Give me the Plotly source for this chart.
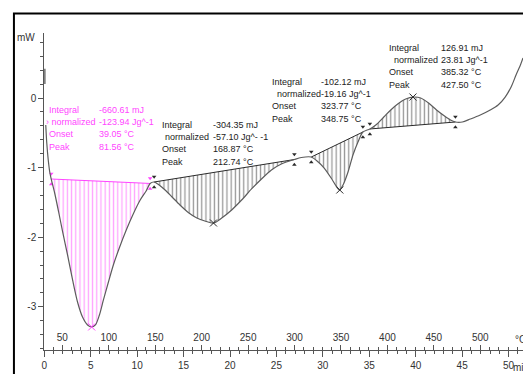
import plotly.graph_objects as go

W, H = 523, 374

# DSC heating run: heat flow (mW) against time (min), heating rate 10 K/min
time_min = [0.16, 0.27, 0.43, 0.59, 0.75, 1.12, 1.55, 1.98, 2.51, 3.05,
            3.58, 4.12, 4.66, 5.09, 5.51, 5.94, 6.37, 6.91, 7.44, 8.08,
            8.83, 9.58, 10.33, 10.97, 11.40, 11.83, 12.37, 13.01, 13.76, 14.61,
            15.58, 16.43, 17.29, 18.25, 19.11, 20.18, 21.25, 22.32, 23.39, 24.46,
            25.53, 26.93, 27.68, 28.75, 29.50, 30.14, 30.89, 31.42, 31.80, 32.17,
            32.71, 33.24, 33.78, 34.31, 35.06, 35.70, 36.56, 37.31, 38.06, 38.92,
            39.78, 40.53, 41.38, 42.24, 43.10, 43.74, 44.27, 45.02, 45.88, 46.95,
            48.02, 48.87, 49.63, 50.27, 50.80, 51.23, 51.55]
heat_flow_mw = [-0.388, -0.647, -0.891, -1.063, -1.164, -1.365, -1.638, -1.925, -2.256, -2.615,
                -2.931, -3.147, -3.261, -3.290, -3.261, -3.118, -2.902, -2.644, -2.399, -2.155,
                -1.897, -1.667, -1.466, -1.336, -1.228, -1.207, -1.250, -1.322, -1.422, -1.537,
                -1.652, -1.724, -1.767, -1.796, -1.724, -1.609, -1.466, -1.307, -1.164, -1.034,
                -0.948, -0.884, -0.855, -0.848, -0.920, -1.006, -1.149, -1.264, -1.322, -1.250,
                -1.063, -0.819, -0.632, -0.489, -0.445, -0.388, -0.273, -0.172, -0.086, -0.014,
                0.014, 0.000, -0.072, -0.172, -0.259, -0.316, -0.345, -0.345, -0.302, -0.244,
                -0.172, -0.101, 0.014, 0.158, 0.330, 0.460, 0.575]

# integration limits (min) of the four evaluated effects
limit_start = [0.75, 11.83, 28.75, 35.06]
limit_end = [11.40, 26.93, 34.31, 44.27]

# evaluation results
integral_mj = [-660.61, -304.35, -102.12, 126.91]
normalized_text = ["-123.94 Jg^-1", "-57.10 Jg^- -1", "-19.16 Jg^-1", "23.81 Jg^-1"]
onset_c = [39.05, 168.87, 323.77, 385.32]
peak_c = [81.56, 212.74, 348.75, 427.50]

time_ticks = list(range(0, 51, 5))
temp_ticks = list(range(50, 501, 50))
mw_ticks = [-3, -2, -1, 0]

# temperature scale drawn over the time axis (T = 30.5 + 10 t)
T_START, RATE = 30.5, 10.0
T_RANGE = [0.0, 51.55]

PINK = "#ff45ff"
INK = "#2a2a2a"
CURVE = "#5c5c5c"
AXIS = "#555555"
TXT_FONT = "Liberation Sans, Arial"


def paper(x, y):
    return x / W, 1 - y / H


fig = go.Figure()

region_colors = [PINK, INK, INK, INK]
peak_points = []
for i, (t0, t1) in enumerate(zip(limit_start, limit_end)):
    idx = [k for k, t in enumerate(time_min) if t0 - 1e-9 <= t <= t1 + 1e-9]
    seg_t = [time_min[k] for k in idx]
    seg_y = [heat_flow_mw[k] for k in idx]
    col = region_colors[i]
    # straight baseline between the limits
    fig.add_trace(go.Scatter(x=[seg_t[0], seg_t[-1]], y=[seg_y[0], seg_y[-1]],
                             mode="lines", line=dict(color=col, width=1),
                             hoverinfo="skip"))
    # hatched area between baseline and signal
    fig.add_trace(go.Scatter(x=seg_t, y=seg_y, mode="lines",
                             line=dict(color="rgba(0,0,0,0)", width=0, shape="spline"),
                             fill="tonexty", fillcolor="rgba(255,255,255,0)",
                             fillpattern=dict(shape="|", size=4.2, solidity=0.3,
                                              fgcolor=col, bgcolor="rgba(255,255,255,0)"),
                             hoverinfo="skip"))
    # limit markers above and below the curve
    for tt, yy in ((seg_t[0], seg_y[0]), (seg_t[-1], seg_y[-1])):
        fig.add_trace(go.Scatter(x=[tt, tt], y=[yy + 0.075, yy - 0.075], mode="markers",
                                 marker=dict(symbol=["triangle-down", "triangle-up"],
                                             size=4, color=col),
                                 hoverinfo="skip"))
    ext = max(seg_y) if integral_mj[i] > 0 else min(seg_y)
    peak_points.append(ext)

# measured signal
fig.add_trace(go.Scatter(x=time_min, y=heat_flow_mw, mode="lines",
                         line=dict(color=CURVE, width=1.2, shape="spline", smoothing=0.8),
                         hoverinfo="skip"))

# peak markers placed on the temperature scale
fig.add_trace(go.Scatter(x=peak_c, y=peak_points, xaxis="x2", yaxis="y", mode="markers",
                         marker=dict(symbol="x-thin", size=7,
                                     line=dict(width=1, color=region_colors)),
                         hoverinfo="skip"))

# result blocks
label_x = [(44, 41, 44, 44), (158, 161, 158, 158), (269, 274, 269, 269), (386, 391, 386, 386)]
value_x = [95, 209, 318, 439]
first_line_y = [110, 125, 82, 48]
LINE = 12.2
annotations = []
for i in range(4):
    col = PINK if i == 0 else "#222222"
    labels = ["Integral", "\u203a normalized" if i == 0 else "normalized", "Onset", "Peak"]
    values = [f"{integral_mj[i]:.2f} mJ", normalized_text[i],
              f"{onset_c[i]:.2f} \u00b0C", f"{peak_c[i]:.2f} \u00b0C"]
    for j in range(4):
        yy = first_line_y[i] + j * LINE
        for xx, txt in ((label_x[i][j], labels[j]), (value_x[i], values[j])):
            px, py = paper(xx, yy)
            annotations.append(dict(x=px, y=py, xref="paper", yref="paper", text=txt,
                                    showarrow=False, xanchor="left", yanchor="middle",
                                    font=dict(size=9, color=col, family=TXT_FONT)))

# axis unit labels
for xx, yy, txt, anchor in ((23, 38, "mW", "center"), (511, 367, "min", "left"),
                            (513, 339, "\u00b0C", "left")):
    px, py = paper(xx, yy)
    annotations.append(dict(x=px, y=py, xref="paper", yref="paper", text=txt,
                            showarrow=False, xanchor=anchor, yanchor="middle",
                            font=dict(size=10, color="#333333", family="Liberation Sans")))

# instrument frame
x0, y1 = paper(11, 13.5)
shapes = [dict(type="rect", xref="paper", yref="paper", x0=x0, x1=1.05, y0=-0.05, y1=y1,
               line=dict(color="black", width=2), layer="above"),
          # thick segment on the ordinate
          dict(type="line", xref="x", yref="y", x0=0, x1=0, y0=0.2, y1=0.42,
               line=dict(color=AXIS, width=2.5))]

tick_font = dict(size=10, color="#333333", family="Liberation Sans")
y_dom = [24 / H, 341 / H]

fig.update_layout(
    width=W, height=H, autosize=False, margin=dict(l=0, r=0, t=0, b=0),
    paper_bgcolor="white", plot_bgcolor="white", showlegend=False,
    annotations=annotations, shapes=shapes,
    xaxis=dict(domain=[41.5 / W, 1], range=T_RANGE, anchor="y",
               showline=True, linecolor=AXIS, linewidth=1,
               ticks="outside", tickvals=time_ticks, ticktext=[str(v) for v in time_ticks],
               ticklen=6, tickcolor=AXIS, tickwidth=1,
               minor=dict(ticks="outside", dtick=1, tick0=0, ticklen=3, tickcolor=AXIS),
               showgrid=False, zeroline=False, tickfont=tick_font),
    xaxis2=dict(overlaying="x", side="top", anchor="free", position=y_dom[0],
                range=[T_START + RATE * T_RANGE[0], T_START + RATE * T_RANGE[1]],
                showline=False, ticks="outside", tickvals=temp_ticks,
                ticktext=[str(v) for v in temp_ticks], ticklen=5, tickcolor=AXIS, tickwidth=1,
                minor=dict(ticks="outside", dtick=10, tick0=0, ticklen=3, tickcolor=AXIS),
                showgrid=False, zeroline=False, tickfont=tick_font),
    yaxis=dict(domain=y_dom, range=[-3.621, 0.934], anchor="x",
               showline=True, linecolor=AXIS, linewidth=1,
               ticks="outside", tickvals=mw_ticks, ticktext=[str(v) for v in mw_ticks],
               ticklen=5, tickcolor=AXIS, tickwidth=1,
               minor=dict(ticks="outside", dtick=0.2, tick0=0, ticklen=3, tickcolor=AXIS),
               showgrid=False, zeroline=False, tickfont=tick_font),
)

fig.write_html("out.html")
